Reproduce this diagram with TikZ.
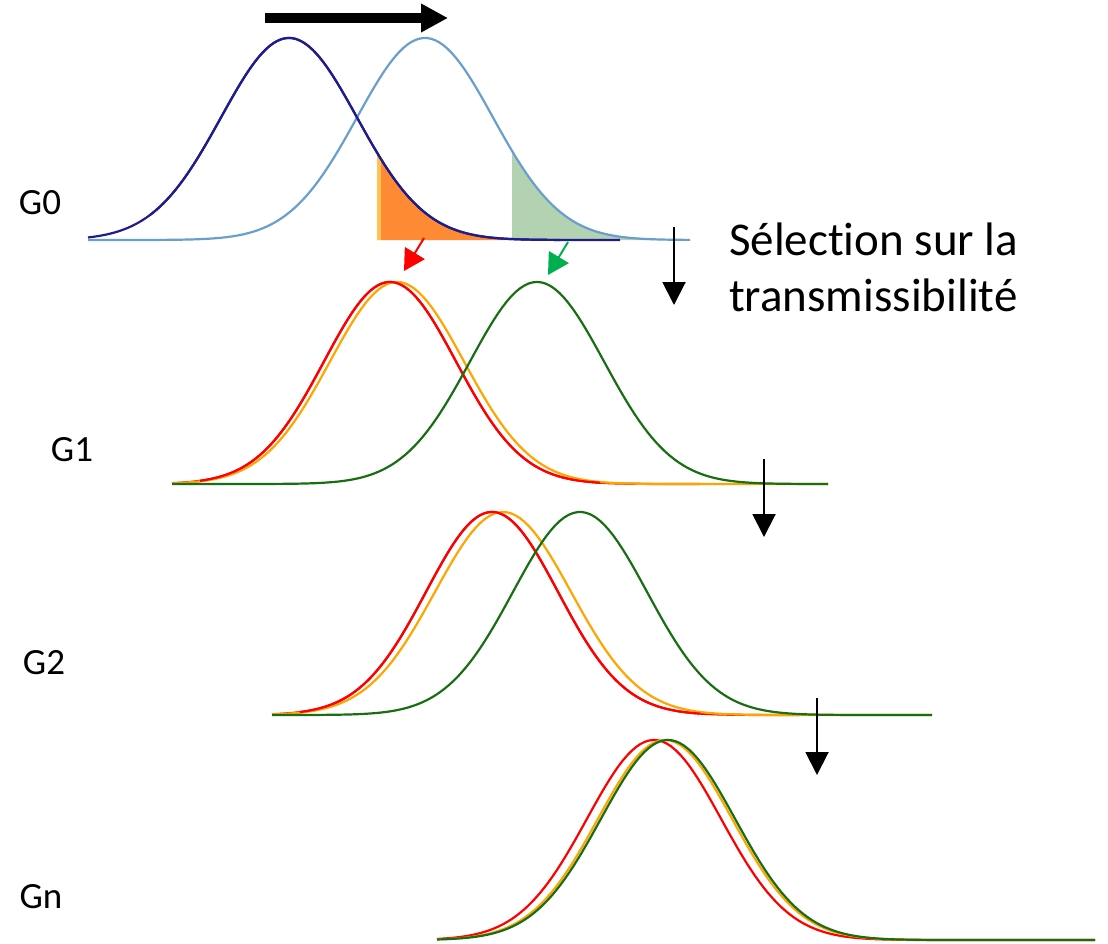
\documentclass[tikz,border=0pt]{standalone}
\usepackage{fontspec}
\setmainfont{Carlito}[Ligatures=NoCommon]
\usetikzlibrary{arrows.meta}
\definecolor{navyc}{RGB}{32,28,140}
\definecolor{lblue}{RGB}{105,158,205}
\definecolor{redc}{RGB}{255,0,0}
\definecolor{orangec}{RGB}{255,165,0}
\definecolor{greenc}{RGB}{25,110,20}
\definecolor{ofill}{RGB}{255,138,52}
\definecolor{ostripe}{RGB}{255,195,85}
\definecolor{gfill}{RGB}{178,210,178}
\definecolor{agreen}{RGB}{0,176,80}
\begin{document}
\begin{tikzpicture}[x=1pt,y=-1pt,
  curve/.style={line width=2.2pt},
  lab/.style={font=\fontsize{37}{40}\selectfont, inner sep=0pt},
  downarrow/.style={line width=2pt, -{Triangle[width=23pt,length=23pt]}},
  smallarrow/.style={line width=2pt, -{Triangle[width=23pt,length=21pt]}},
  declare function={g(\x,\m,\s)=exp(-0.5*((\x-\m)/\s)^2);}
]
\useasboundingbox (0,0) rectangle (1108,944);

% ---- G0 ----
\fill[ofill] (377,240) -- plot[domain=377:512,samples=60] (\x,{240-202*g(\x,289,68)}) -- (512,240) -- cycle;
\fill[ostripe] (377,240) rectangle (381,{240-202*g(379,289,68)});
\fill[gfill] (512,240) -- plot[domain=512:690,samples=60] (\x,{240-202*g(\x,425,68)}) -- (690,240) -- cycle;
\draw[curve,navyc] plot[domain=88:620,samples=150] (\x,{240-202*g(\x,289,68)});
\draw[curve,lblue] plot[domain=88:690,samples=150] (\x,{240-202*g(\x,425,68)});
\draw[curve,navyc] plot[domain=150:560,samples=150] (\x,{240-202*g(\x,289,68)});

% ---- G1 ----
\draw[curve,redc] plot[domain=172:700,samples=150] (\x,{484-202*g(\x,390,66)});
\draw[curve,orangec] plot[domain=172:828,samples=150] (\x,{484-202*g(\x,397,67)});
\draw[curve,redc] plot[domain=200:600,samples=150] (\x,{484-202*g(\x,390,66)});
\draw[curve,greenc] plot[domain=172:828,samples=150] (\x,{484-202*g(\x,537,67)});

% ---- G2 ----
\draw[curve,redc] plot[domain=272:800,samples=150] (\x,{715-203*g(\x,492,66)});
\draw[curve,orangec] plot[domain=272:932,samples=150] (\x,{715-203*g(\x,503,68)});
\draw[curve,redc] plot[domain=300:700,samples=150] (\x,{715-203*g(\x,492,66)});
\draw[curve,greenc] plot[domain=272:932,samples=150] (\x,{715-203*g(\x,580,67)});

% ---- Gn ----
\draw[curve,redc] plot[domain=437:1095,samples=150] (\x,{940-200*g(\x,654,67)});
\draw[curve,orangec] plot[domain=437:1095,samples=150] (\x,{940-200*g(\x,665,67)});
\draw[curve,greenc] plot[domain=437:1095,samples=150] (\x,{940-200*g(\x,668,67)});

% ---- arrows ----
\coordinate (bigA) at (265,18);
\coordinate (bigB) at (448,18);
\draw[line width=10pt, -{Triangle[width=27pt,length=27pt]}] (bigA) -- (bigB);

\coordinate (rA) at (424,238);
\coordinate (rB) at (404,271);
\draw[smallarrow,redc] (rA) -- (rB);
\coordinate (gA) at (568,242);
\coordinate (gB) at (548,275);
\draw[smallarrow,agreen] (gA) -- (gB);

\coordinate (d0a) at (674,227);
\coordinate (d0b) at (674,305);
\draw[downarrow] (d0a) -- (d0b);
\coordinate (d1a) at (764,459);
\coordinate (d1b) at (764,537);
\draw[downarrow] (d1a) -- (d1b);
\coordinate (d2a) at (817,698);
\coordinate (d2b) at (817,775);
\draw[downarrow] (d2a) -- (d2b);

% ---- labels ----
\node[lab] (l0) at (40,203) {G0};
\node[lab] (l1) at (72,450) {G1};
\node[lab] (l2) at (44,663) {G2};
\node[lab] (ln) at (41,897) {Gn};
\node[anchor=west, align=left, inner sep=0pt, font=\fontsize{47}{56}\selectfont] (sel) at (729,267) {Sélect\kern0pt ion sur la\\transmissibilité};
\end{tikzpicture}
\end{document}
